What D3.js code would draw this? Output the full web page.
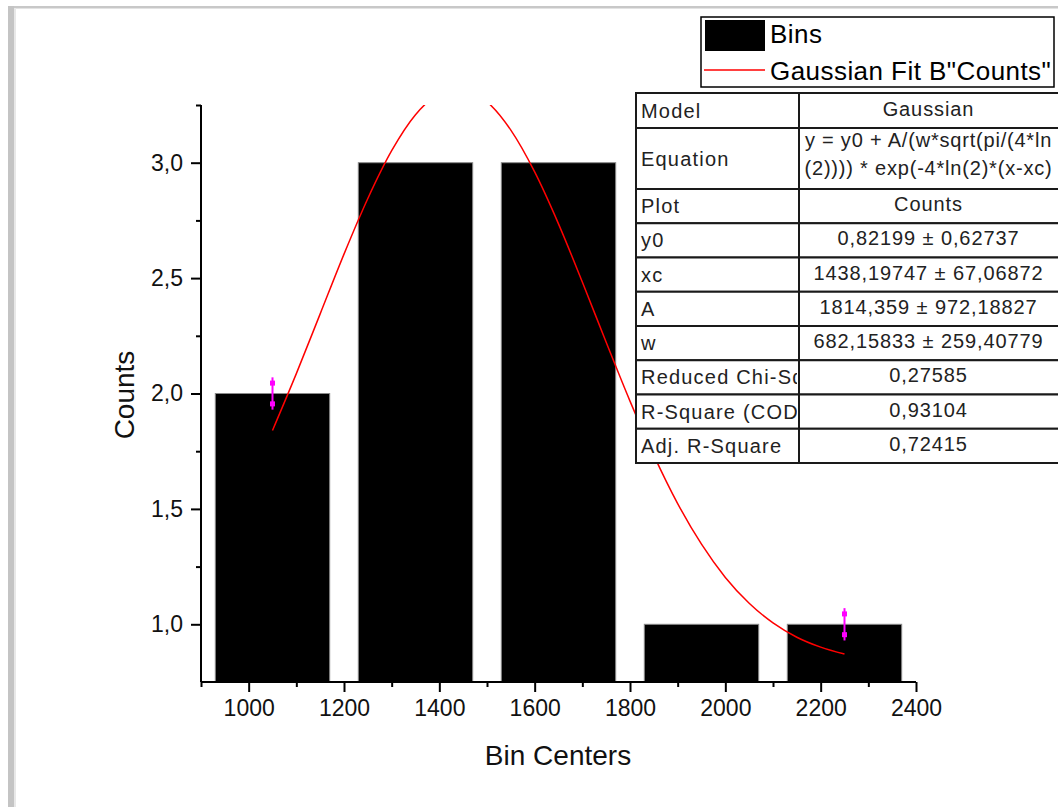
<!DOCTYPE html>
<html>
<head>
<meta charset="utf-8">
<script src="https://cdn.jsdelivr.net/npm/d3@7"></script>
<style>
  html, body { margin: 0; padding: 0; background: #fff; }
  svg { display: block; }
  text { font-family: "Liberation Sans", Arial, sans-serif; }
</style>
</head>
<body>
<script>
// ---------- data ----------
const binCenters = [1050, 1350, 1650, 1950, 2250];
const counts = [2, 3, 3, 1, 1];
const binWidth = 240;

// Gaussian fit curve
const fitX = [1050, 1100, 1150, 1200, 1250, 1300, 1350, 1400, 1438, 1450, 1500, 1550, 1600, 1650, 1700,
              1750, 1800, 1850, 1900, 1950, 2000, 2050, 2100, 2150, 2200, 2250];
const fitY = [1.840, 2.086, 2.345, 2.604, 2.845, 3.052, 3.208, 3.299, 3.321, 3.319, 3.264, 3.141, 2.960, 2.735, 2.483,
              2.222, 1.967, 1.732, 1.523, 1.347, 1.203, 1.091, 1.006, 0.944, 0.901, 0.871];

// error markers
const errX = [1050, 2250];
const errY = [2.0, 1.0];
const errSize = [0.07, 0.07];
const errInner = [0.045, 0.045];

const xTicks = [1000, 1200, 1400, 1600, 1800, 2000, 2200, 2400];
const xMinorTicks = [900, 1100, 1300, 1500, 1700, 1900, 2100, 2300];
const yTicks = [1.0, 1.5, 2.0, 2.5, 3.0];
const yMinorTicks = [1.25, 1.75, 2.25, 2.75, 3.25];

const legendLabels = ["Bins", "Gaussian Fit B\"Counts\""];

const tableLabels = ["Model", "Equation", "Plot", "y0", "xc", "A", "w", "Reduced Chi-Sqr", "R-Square (COD)", "Adj. R-Square"];
const tableValues = [
  ["Gaussian"],
  ["y = y0 + A/(w*sqrt(pi/(4*ln", "(2)))) * exp(-4*ln(2)*(x-xc)", "^2/w^2)"],
  ["Counts"],
  ["0,82199 \u00b1 0,62737"],
  ["1438,19747 \u00b1 67,06872"],
  ["1814,359 \u00b1 972,18827"],
  ["682,15833 \u00b1 259,40779"],
  ["0,27585"],
  ["0,93104"],
  ["0,72415"]
];

// ---------- layout ----------
const W = 1058, H = 807;
const plot = { left: 201, right: 916, top: 105, bottom: 682 };

const svg = d3.select("body").append("svg").attr("width", W).attr("height", H);

// window frame
svg.append("rect").attr("x", 0).attr("y", 0).attr("width", W).attr("height", H).attr("fill", "#fff");
svg.append("rect").attr("x", 8).attr("y", 6).attr("width", W - 8).attr("height", 2.5).attr("fill", "#c8c8c8");
svg.append("rect").attr("x", 8).attr("y", 6).attr("width", 6).attr("height", H - 6).attr("fill", "#c4c4c4");
svg.append("rect").attr("x", 14).attr("y", 8).attr("width", 2).attr("height", H - 8).attr("fill", "#e8e8e8");

const locale = d3.formatLocale({ decimal: ",", thousands: ".", grouping: [3], currency: ["", ""] });
const fmt1 = locale.format(".1f");

const x = d3.scaleLinear().domain([900, 2400]).range([plot.left, plot.right]);
const y = d3.scaleLinear().domain([0.75, 3.25]).range([plot.bottom, plot.top]);

svg.append("defs").append("clipPath").attr("id", "plotClip")
  .append("rect").attr("x", plot.left).attr("y", plot.top)
  .attr("width", plot.right - plot.left).attr("height", plot.bottom - plot.top);

const g = svg.append("g").attr("clip-path", "url(#plotClip)");

// bars
g.selectAll("rect.bar").data(binCenters).enter().append("rect")
  .attr("class", "bar")
  .attr("x", (d) => x(d - binWidth / 2))
  .attr("width", (d) => x(d + binWidth / 2) - x(d - binWidth / 2))
  .attr("y", (d, i) => y(counts[i]))
  .attr("height", (d, i) => y(0.75) - y(counts[i]))
  .attr("fill", "#000")
  .attr("stroke", "#8a8a8a")
  .attr("stroke-width", 1);

// fit curve
const fitData = fitX.map((v, i) => [v, fitY[i]]);
g.append("path")
  .datum(fitData)
  .attr("fill", "none")
  .attr("stroke", "#ff0000")
  .attr("stroke-width", 1.5)
  .attr("d", d3.line().x((d) => x(d[0])).y((d) => y(d[1])).curve(d3.curveMonotoneX));

// error markers
errX.forEach((ex, i) => {
  const cx = x(ex);
  g.append("line")
    .attr("x1", cx).attr("x2", cx)
    .attr("y1", y(errY[i] + errSize[i])).attr("y2", y(errY[i] - errSize[i]))
    .attr("stroke", "#ff00ff").attr("stroke-width", 2);
  [errInner[i], -errInner[i]].forEach((o) => {
    g.append("rect")
      .attr("x", cx - 2.5).attr("y", y(errY[i] + o) - 2.5)
      .attr("width", 5).attr("height", 5)
      .attr("fill", "#ff00ff");
  });
});

// axes
const axisFont = 23;
const xAxis = svg.append("g").attr("transform", `translate(0,${plot.bottom})`)
  .call(d3.axisBottom(x).tickValues(xTicks).tickSize(10).tickPadding(8).tickFormat(d3.format("d")));
svg.append("g").attr("transform", `translate(0,${plot.bottom})`)
  .call(d3.axisBottom(x).tickValues(xMinorTicks).tickSize(5).tickFormat(""))
  .call((s) => s.select(".domain").remove());

const yAxis = svg.append("g").attr("transform", `translate(${plot.left},0)`)
  .call(d3.axisLeft(y).tickValues(yTicks).tickSize(10).tickPadding(8).tickFormat(fmt1));
svg.append("g").attr("transform", `translate(${plot.left},0)`)
  .call(d3.axisLeft(y).tickValues(yMinorTicks).tickSize(5).tickFormat(""))
  .call((s) => s.select(".domain").remove());

svg.selectAll(".domain").attr("stroke", "#000").attr("stroke-width", 2);
svg.selectAll(".tick line").attr("stroke", "#000").attr("stroke-width", 2);
xAxis.select(".domain").attr("d", `M${plot.left},0H${plot.right}`);
yAxis.select(".domain").attr("d", `M0,${plot.top}V${plot.bottom}`);
svg.selectAll(".tick text").attr("font-size", axisFont).attr("fill", "#111")
  .attr("font-family", "'Liberation Sans', Arial, sans-serif");

// axis titles
svg.append("text").attr("x", 558).attr("y", 765).attr("text-anchor", "middle")
  .attr("font-size", 28).attr("fill", "#111").text("Bin Centers");
svg.append("text").attr("transform", "translate(134,395) rotate(-90)").attr("text-anchor", "middle")
  .attr("font-size", 28).attr("fill", "#111").text("Counts");

// legend
const leg = svg.append("g");
leg.append("rect").attr("x", 701).attr("y", 17).attr("width", 353).attr("height", 70)
  .attr("fill", "#fff").attr("stroke", "#000").attr("stroke-width", 1.5);
leg.append("rect").attr("x", 705).attr("y", 20).attr("width", 60).attr("height", 31).attr("fill", "#000");
leg.append("line").attr("x1", 704).attr("x2", 765).attr("y1", 70).attr("y2", 70)
  .attr("stroke", "#ff0000").attr("stroke-width", 1.5);
leg.selectAll("text.lg").data(legendLabels).enter().append("text")
  .attr("class", "lg")
  .attr("x", 770).attr("y", (d, i) => 43 + i * 37)
  .attr("font-size", 26).attr("letter-spacing", 0.45).attr("fill", "#000").text((d) => d);

// table
const tLeft = 636, tMid = 799, tRight = 1060;
const rowHeights = [35, 61, 34.25, 34.25, 34.25, 34.25, 34.25, 34.25, 34.25, 34.25];
let acc = 93;
const rowTops = rowHeights.map((h) => { const t = acc; acc += h; return t; });
const tbl = svg.append("g");
const defs = svg.select("defs");
tableLabels.forEach((lab, i) => {
  const top = rowTops[i], h = rowHeights[i];
  defs.append("clipPath").attr("id", "cl" + i).append("rect")
    .attr("x", tLeft + 2).attr("y", top + 1).attr("width", tMid - tLeft - 4).attr("height", h - 2);
  defs.append("clipPath").attr("id", "cr" + i).append("rect")
    .attr("x", tMid + 2).attr("y", top + 1).attr("width", tRight - tMid - 4).attr("height", h - 2);
  tbl.append("rect").attr("x", tLeft).attr("y", top).attr("width", tMid - tLeft).attr("height", h)
    .attr("fill", "#fff").attr("stroke", "#1a1a1a").attr("stroke-width", 2);
  tbl.append("rect").attr("x", tMid).attr("y", top).attr("width", tRight - tMid).attr("height", h)
    .attr("fill", "#fff").attr("stroke", "#1a1a1a").attr("stroke-width", 2);
  tbl.append("text").attr("clip-path", `url(#cl${i})`)
    .attr("x", tLeft + 5).attr("y", top + h / 2 + 7)
    .attr("font-size", 20).attr("letter-spacing", 1.2).attr("fill", "#222").text(lab);
  const vals = tableValues[i];
  if (vals.length === 1) {
    tbl.append("text").attr("clip-path", `url(#cr${i})`)
      .attr("x", (tMid + tRight) / 2 - 1).attr("y", top + h / 2 + 5)
      .attr("text-anchor", "middle")
      .attr("font-size", 20).attr("letter-spacing", 0.9).attr("fill", "#222").text(vals[0]);
  } else {
    vals.forEach((v, j) => {
      tbl.append("text").attr("clip-path", `url(#cr${i})`)
        .attr("x", (tMid + tRight) / 2 - 1).attr("y", top + 19 + j * 28)
        .attr("text-anchor", "middle")
        .attr("font-size", 20).attr("letter-spacing", 0.8).attr("fill", "#222").text(v);
    });
  }
});
</script>
</body>
</html>
